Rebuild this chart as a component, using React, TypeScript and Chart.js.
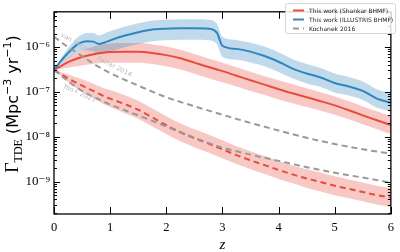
import React, { useEffect, useRef } from "react";
import { Chart, registerables } from "chart.js";

Chart.register(...registerables);

// Redshift sampling shared by all curves
const redshift = [
  0, 0.1, 0.2, 0.3, 0.4, 0.5, 0.6, 0.7, 0.8, 0.9, 1.0, 1.25, 1.5, 1.75, 2.0, 2.25,
  2.5, 2.75, 2.9, 3.0, 3.25, 3.5, 3.75, 4.0, 4.25, 4.5, 4.75, 5.0, 5.25, 5.5, 5.75, 6.0,
];

// TDE rate, Shankar BHMF (Mpc^-3 yr^-1)
const shankarRate = [
  3.1e-7, 3.63e-7, 4.27e-7, 4.9e-7, 5.5e-7, 6.0e-7, 6.45e-7, 6.9e-7, 7.25e-7, 7.6e-7,
  7.75e-7, 7.9e-7, 7.9e-7, 7.4e-7, 6.6e-7, 5.6e-7, 4.5e-7, 3.6e-7, 3.16e-7, 2.9e-7,
  2.3e-7, 1.82e-7, 1.45e-7, 1.15e-7, 9.3e-8, 7.6e-8, 6.2e-8, 5.0e-8, 3.9e-8, 3.0e-8,
  2.34e-8, 1.82e-8,
];

// TDE rate, ILLUSTRIS BHMF
const illustrisRate = [
  3.1e-7, 4.47e-7, 6.3e-7, 8.5e-7, 1.1e-6, 1.29e-6, 1.35e-6, 1.32e-6, 1.17e-6, 1.26e-6,
  1.41e-6, 1.78e-6, 2.14e-6, 2.45e-6, 2.57e-6, 2.63e-6, 2.63e-6, 2.57e-6, 2.09e-6, 1.07e-6,
  9.1e-7, 7.9e-7, 6.3e-7, 4.7e-7, 3.3e-7, 2.57e-7, 2.09e-7, 1.58e-7, 1.32e-7, 1.05e-7,
  7.1e-8, 5.75e-8,
];

// Lower-rate variant, Shankar BHMF (dashed)
const shankarLowRate = [
  3.1e-7, 2.57e-7, 2.19e-7, 1.86e-7, 1.58e-7, 1.38e-7, 1.2e-7, 1.05e-7, 9.1e-8, 7.9e-8,
  7.1e-8, 5.4e-8, 4.0e-8, 2.7e-8, 1.82e-8, 1.26e-8, 9.3e-9, 7.1e-9, 5.9e-9, 5.25e-9,
  3.9e-9, 3.0e-9, 2.34e-9, 1.82e-9, 1.45e-9, 1.17e-9, 9.8e-10, 8.1e-10, 6.9e-10, 5.9e-10,
  5.0e-10, 4.4e-10,
];

// Uncertainty band widths in dex (above / below the central curve)
const shankarBandUp = [
  0, 0.04, 0.08, 0.11, 0.13, 0.15, 0.16, 0.17, 0.18, 0.18, 0.19, 0.19, 0.19, 0.19, 0.19, 0.19,
  0.19, 0.19, 0.19, 0.19, 0.19, 0.19, 0.19, 0.2, 0.2, 0.2, 0.2, 0.2, 0.2, 0.2, 0.2, 0.2,
];
const shankarBandDown = [
  0, 0.05, 0.1, 0.14, 0.17, 0.19, 0.2, 0.21, 0.22, 0.23, 0.24, 0.25, 0.25, 0.25, 0.25, 0.25,
  0.25, 0.25, 0.25, 0.25, 0.24, 0.24, 0.23, 0.23, 0.22, 0.22, 0.21, 0.21, 0.2, 0.2, 0.2, 0.2,
];
const illustrisBandUp = [
  0, 0.05, 0.09, 0.12, 0.15, 0.17, 0.18, 0.19, 0.19, 0.2, 0.2, 0.2, 0.2, 0.2, 0.2, 0.2,
  0.2, 0.2, 0.2, 0.2, 0.2, 0.2, 0.21, 0.21, 0.21, 0.21, 0.21, 0.21, 0.21, 0.21, 0.21, 0.21,
];
const illustrisBandDown = [
  0, 0.05, 0.1, 0.14, 0.17, 0.19, 0.2, 0.22, 0.23, 0.24, 0.25, 0.26, 0.26, 0.26, 0.26, 0.26,
  0.26, 0.26, 0.26, 0.25, 0.24, 0.24, 0.23, 0.23, 0.22, 0.22, 0.21, 0.21, 0.2, 0.2, 0.2, 0.2,
];
const shankarLowBandUp = [
  0, 0.04, 0.07, 0.1, 0.12, 0.14, 0.15, 0.16, 0.17, 0.18, 0.19, 0.2, 0.2, 0.2, 0.2, 0.2,
  0.2, 0.2, 0.2, 0.2, 0.2, 0.2, 0.2, 0.2, 0.2, 0.21, 0.21, 0.21, 0.21, 0.21, 0.21, 0.21,
];
const shankarLowBandDown = [
  0, 0.04, 0.07, 0.1, 0.12, 0.14, 0.15, 0.16, 0.17, 0.18, 0.19, 0.2, 0.2, 0.2, 0.2, 0.2,
  0.2, 0.2, 0.2, 0.2, 0.2, 0.2, 0.2, 0.2, 0.2, 0.21, 0.21, 0.21, 0.21, 0.21, 0.21, 0.21,
];

// Kochanek 2016 comparison curves
const kochanekZ = [0, 0.25, 0.5, 0.75, 1.0, 1.5, 2.0, 2.5, 3.0, 3.5, 4.0, 4.5, 5.0, 5.5, 6.0];
const kochanekHigh = [
  1.7e-6, 1.0e-6, 6.3e-7, 3.9e-7, 2.63e-7, 1.38e-7, 7.6e-8, 4.8e-8, 3.1e-8, 2.04e-8,
  1.38e-8, 9.5e-9, 6.9e-9, 5.25e-9, 4.2e-9,
];
const kochanekLow = [
  3.1e-7, 1.74e-7, 1.05e-7, 7.25e-8, 5.25e-8, 3.0e-8, 1.7e-8, 9.5e-9, 5.75e-9, 4.0e-9,
  2.9e-9, 2.1e-9, 1.58e-9, 1.23e-9, 9.5e-10,
];

// Observational labels placed along the curves: [text, z, rate, angle in degrees]
const obsLabels: [string, number, number, number][] = [
  ["van Velzen", 0.4, 1.2e-6, 30],
  ["Farrar 2014", 1.08, 3.6e-7, 27],
  ["Yao+ 2023", 0.45, 9.3e-8, 25],
];

const xTicks = [0, 1, 2, 3, 4, 5, 6];
const yDecades = [-9, -8, -7, -6];

const RED = "#e74c3c";
const BLUE = "#2e86c1";
const GREY = "#999999";
const RED_BAND = "rgba(231,76,60,0.3)";
const BLUE_BAND = "rgba(46,134,193,0.3)";

const SUP: Record<string, string> = {
  "-": "⁻", "0": "⁰", "1": "¹", "2": "²", "3": "³", "4": "⁴",
  "5": "⁵", "6": "⁶", "7": "⁷", "8": "⁸", "9": "⁹",
};
const supText = (s: string) => s.split("").map((c) => SUP[c] ?? c).join("");

const pts = (xs: number[], ys: number[]) => xs.map((x, i) => ({ x, y: ys[i] }));
const shifted = (ys: number[], dex: number[], sign: number) =>
  ys.map((v, i) => v * Math.pow(10, sign * dex[i]));

const SERIF = "'Liberation Serif', 'DejaVu Serif', serif";
const SANS = "'DejaVu Sans', sans-serif";

const decorPlugin = {
  id: "decor",
  afterDraw(chart: any) {
    const ctx = chart.ctx as CanvasRenderingContext2D;
    const { left, right, top, bottom } = chart.chartArea;
    const xs = chart.scales.x;
    const ys = chart.scales.y;
    ctx.save();

    // frame
    ctx.strokeStyle = "#000";
    ctx.lineWidth = 1.3;
    ctx.strokeRect(left, top, right - left, bottom - top);

    // x ticks (inward, top & bottom)
    ctx.lineWidth = 1;
    ctx.beginPath();
    for (const t of xTicks) {
      const px = Math.round(xs.getPixelForValue(t)) + 0.5;
      ctx.moveTo(px, bottom);
      ctx.lineTo(px, bottom - 7);
      ctx.moveTo(px, top);
      ctx.lineTo(px, top + 7);
    }
    // y ticks (major + minor, left & right)
    for (let d = -10; d <= -6; d++) {
      for (let m = 1; m <= 9; m++) {
        const v = m * Math.pow(10, d);
        if (v < ys.min || v > ys.max) continue;
        const py = Math.round(ys.getPixelForValue(v)) + 0.5;
        const len = m === 1 ? 6 : 3;
        ctx.moveTo(left, py);
        ctx.lineTo(left + len, py);
        ctx.moveTo(right, py);
        ctx.lineTo(right - len, py);
      }
    }
    ctx.stroke();

    // observational labels
    ctx.fillStyle = "#bbbbbb";
    ctx.font = `6.5px ${SANS}`;
    ctx.textAlign = "center";
    ctx.textBaseline = "middle";
    for (const [txt, z, r, ang] of obsLabels) {
      ctx.save();
      ctx.translate(xs.getPixelForValue(z), ys.getPixelForValue(r));
      ctx.rotate((ang * Math.PI) / 180);
      ctx.fillText(txt, 0, 0);
      ctx.restore();
    }

    // x axis title
    ctx.fillStyle = "#000";
    ctx.font = `italic 15px ${SERIF}`;
    ctx.textAlign = "center";
    ctx.textBaseline = "alphabetic";
    ctx.fillText("z", (left + right) / 2, 249);

    // y axis title with sub/superscripts
    const runs: [string, string, number][] = [
      ["Γ", `18px ${SERIF}`, 0],
      ["TDE", `12px ${SERIF}`, 3.5],
      [" (Mpc", `16px ${SANS}`, 0],
      ["−3", `11px ${SANS}`, -7],
      [" yr", `16px ${SANS}`, 0],
      ["−1", `11px ${SANS}`, -7],
      [")", `16px ${SANS}`, 0],
    ];
    let total = 0;
    for (const [t, f] of runs) {
      ctx.font = f;
      total += ctx.measureText(t).width;
    }
    ctx.save();
    ctx.translate(18, 104);
    ctx.rotate(-Math.PI / 2);
    ctx.textAlign = "left";
    let cx = -total / 2;
    for (const [t, f, dy] of runs) {
      ctx.font = f;
      ctx.fillText(t, cx, dy);
      cx += ctx.measureText(t).width;
    }
    ctx.restore();

    // legend
    const bx = 285.5, by = 3.5, bw = 110, bh = 30;
    ctx.beginPath();
    ctx.roundRect(bx, by, bw, bh, 2);
    ctx.fillStyle = "rgba(255,255,255,0.85)";
    ctx.fill();
    ctx.strokeStyle = "#cccccc";
    ctx.lineWidth = 0.8;
    ctx.stroke();
    const items = chart.data.datasets.filter((d: any) => d.inLegend);
    items.forEach((d: any, i: number) => {
      const ry = 10.5 + i * 9;
      ctx.beginPath();
      ctx.strokeStyle = d.borderColor;
      ctx.lineWidth = 2;
      ctx.setLineDash(d.borderDash || []);
      ctx.moveTo(293, ry);
      ctx.lineTo(304, ry);
      ctx.stroke();
      ctx.setLineDash([]);
      ctx.fillStyle = "#222";
      ctx.font = `6px ${SANS}`;
      ctx.textAlign = "left";
      ctx.textBaseline = "middle";
      ctx.fillText(d.label, 309, ry + 0.5);
    });

    ctx.restore();
  },
};

export default function App() {
  const canvasRef = useRef<HTMLCanvasElement | null>(null);

  useEffect(() => {
    if (!canvasRef.current) return;

    const band = (
      ys: number[],
      up: number[],
      down: number[],
      color: string,
      order: number
    ) => [
      {
        label: "",
        data: pts(redshift, shifted(ys, up, 1)),
        borderWidth: 0,
        pointRadius: 0,
        fill: false,
        cubicInterpolationMode: "monotone",
        order,
      },
      {
        label: "",
        data: pts(redshift, shifted(ys, down, -1)),
        borderWidth: 0,
        pointRadius: 0,
        backgroundColor: color,
        fill: "-1",
        cubicInterpolationMode: "monotone",
        order,
      },
    ];

    const line = (
      label: string,
      data: { x: number; y: number }[],
      color: string,
      dash: number[],
      order: number,
      inLegend: boolean
    ) => ({
      label,
      data,
      borderColor: color,
      borderWidth: 2,
      borderDash: dash,
      pointRadius: 0,
      fill: false,
      cubicInterpolationMode: "monotone",
      order,
      inLegend,
    });

    const chart = new Chart(canvasRef.current, {
      type: "line",
      data: {
        datasets: [
          line("This work (Shankar BHMF)", pts(redshift, shankarRate), RED, [], 3, true),
          line("This work (ILLUSTRIS BHMF)", pts(redshift, illustrisRate), BLUE, [], 2, true),
          line("Kochanek 2016", pts(kochanekZ, kochanekHigh), GREY, [6, 4], 1, true),
          line("Kochanek 2016", pts(kochanekZ, kochanekLow), GREY, [6, 4], 1, false),
          line("This work (Shankar BHMF)", pts(redshift, shankarLowRate), RED, [6, 4], 2.5, false),
          ...band(shankarRate, shankarBandUp, shankarBandDown, RED_BAND, 10),
          ...band(illustrisRate, illustrisBandUp, illustrisBandDown, BLUE_BAND, 9),
          ...band(shankarLowRate, shankarLowBandUp, shankarLowBandDown, RED_BAND, 11),
        ] as any,
      },
      options: {
        animation: false,
        responsive: false,
        devicePixelRatio: 1,
        layout: { padding: { top: 2, right: 3, left: 0, bottom: 0 } },
        plugins: {
          legend: { display: false },
          tooltip: { enabled: false },
        },
        scales: {
          x: {
            type: "linear",
            min: 0,
            max: 6,
            afterFit: (s: any) => {
              s.height = 38;
            },
            afterBuildTicks: (s: any) => {
              s.ticks = xTicks.map((v) => ({ value: v }));
            },
            ticks: {
              color: "#000",
              font: { family: SERIF, size: 12.5 },
              padding: 6,
              maxRotation: 0,
            },
            grid: { display: false, drawTicks: false },
            border: { display: false },
          },
          y: {
            type: "logarithmic",
            min: 1.9e-10,
            max: 6.1e-6,
            afterFit: (s: any) => {
              s.width = 54;
            },
            afterBuildTicks: (s: any) => {
              s.ticks = yDecades.map((e) => ({ value: Math.pow(10, e) }));
            },
            ticks: {
              color: "#000",
              font: { family: SERIF, size: 13 },
              padding: 4,
              callback: (v: any) => "10" + supText(String(Math.round(Math.log10(Number(v))))),
            },
            grid: { display: false, drawTicks: false },
            border: { display: false },
          },
        },
      },
      plugins: [decorPlugin],
    });

    return () => chart.destroy();
  }, []);

  return (
    <div style={{ position: "fixed", left: 0, top: 0, width: 400, height: 252, background: "#fff" }}>
      <canvas ref={canvasRef} width={400} height={252} />
    </div>
  );
}
